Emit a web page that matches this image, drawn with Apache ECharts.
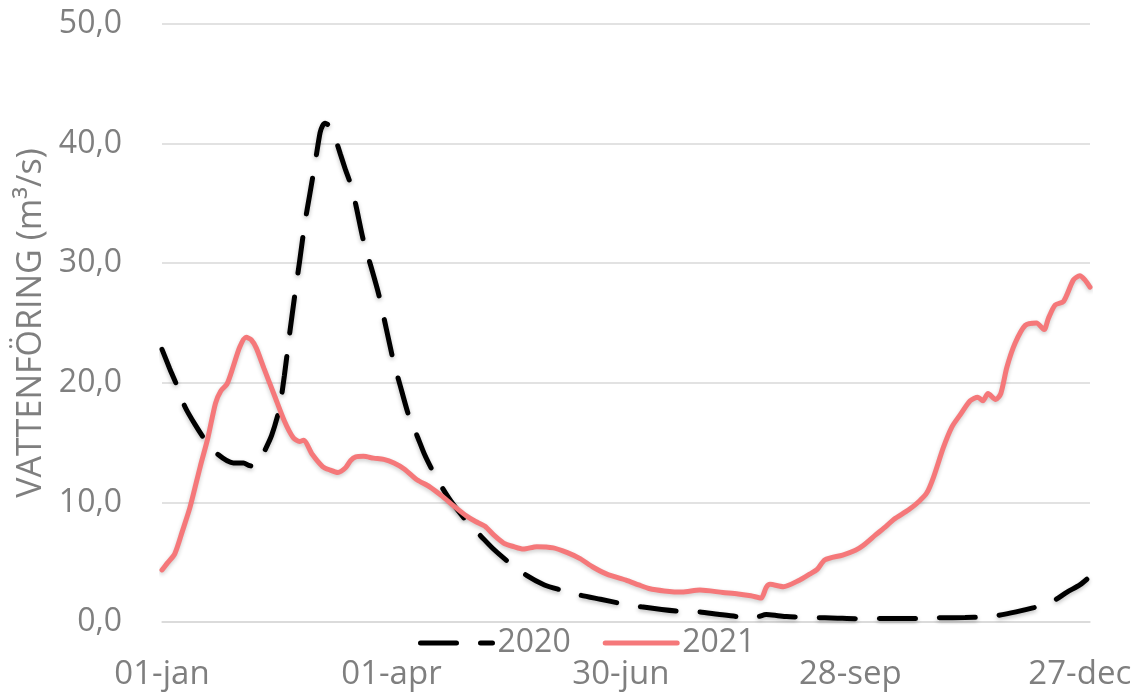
<!DOCTYPE html>
<html>
<head>
<meta charset="utf-8">
<script src="https://cdn.jsdelivr.net/npm/echarts@6/dist/echarts.min.js"></script>
<style>
html,body{margin:0;padding:0;background:#fff;}
#chart{width:1140px;height:693px;}
</style>
</head>
<body>
<div id="chart"></div>
<script>
// Tick labels (every 90 days from 01-jan)
const tickLabels = ['01-jan', '01-apr', '30-jun', '28-sep', '27-dec'];
const yAxisTitle = 'VATTENFÖRING (m³/s)';
const seriesNames = ['2020', '2021'];

// 2020 (day of year, value)
const days2020 = [0,3,6,9,13,17,22,28,32,34,36,38,40,43,46,48,50,52,54,56,58,60,62,63,64,66,68,70,72,74,76,79,82,85,88,91,93,97,100,103,106,110,114,120,125,130,136,143,150,156,164,172,180,188,196,203,211,218,226,233,237,241,245,255,265,272,285,296,305,315,322,328,335,342,346,350,355,360,364];
const values2020 = [22.8,21.2,19.7,18.0,16.5,15.2,14.0,13.3,13.3,13.1,13.0,13.4,14.2,15.6,17.8,20.6,24.0,27.2,30.2,33.3,35.8,38.3,40.9,41.5,41.7,41.4,40.4,39.1,37.8,36.6,34.9,31.9,29.7,27.4,24.5,21.6,20.1,17.1,15.6,14.0,12.7,11.2,9.9,8.3,7.2,6.1,5.0,3.9,3.1,2.7,2.25,1.9,1.55,1.27,1.05,0.9,0.84,0.65,0.45,0.42,0.62,0.55,0.45,0.38,0.32,0.28,0.3,0.3,0.35,0.37,0.42,0.56,0.85,1.2,1.45,1.8,2.5,3.1,3.8];

// 2021 (day of year, value)
const days2021 = [0,2,5,8,11,15,18,21,23,25.5,28,30.5,33,35,37,40,44,48,51.5,54,55.5,59,63,66,69,72,74,76,79,83,87,91,95,100,105,110,115,119.5,123,126.7,130,134,138,141.7,147,153.5,159,164,169,174.5,182,187,191,197,204,211,220,226,231,235,237,238.5,243.7,250,254,257,260,267,272,275,280,284,287,293,297,300,302.6,306.5,309.8,313,317,320,322,324,327,329,331.4,334.6,338.6,343,346,347.7,350.3,353.6,357.5,360,362,364];
const values2021 = [4.35,4.9,5.7,7.6,9.6,13.0,15.4,18.3,19.3,19.9,21.4,23.0,23.8,23.6,22.9,21.2,19.0,16.8,15.4,15.1,15.2,14.0,13.0,12.7,12.5,12.9,13.5,13.8,13.85,13.7,13.6,13.3,12.8,11.9,11.3,10.5,9.6,8.85,8.4,8.0,7.3,6.6,6.3,6.1,6.3,6.2,5.8,5.3,4.6,4.0,3.5,3.1,2.8,2.6,2.5,2.67,2.47,2.35,2.2,2.0,2.9,3.15,2.95,3.5,4.0,4.4,5.2,5.6,6.0,6.4,7.3,8.0,8.57,9.4,10.1,10.8,12.1,14.6,16.3,17.3,18.5,18.8,18.5,19.1,18.6,19.1,21.3,23.3,24.8,25.0,24.45,25.4,26.5,26.8,28.6,28.95,28.6,28.0];

function zip(xs, ys) { return xs.map((x, i) => [x, ys[i]]); }

const FONT = '"Open Sans", "Noto Sans", sans-serif';
const GRAY = '#7F7F7F';

const chart = echarts.init(document.getElementById('chart'), null, {renderer: 'canvas'});
chart.setOption({
  animation: false,
  backgroundColor: '#ffffff',
  grid: {left: 162, right: 50, top: 24, bottom: 71, containLabel: false},
  legend: {
    data: seriesNames,
    left: 418,
    top: 627,
    itemWidth: 72,
    itemHeight: 14,
    itemGap: 32,
    padding: 0,
    textStyle: {color: GRAY, fontSize: 32, fontFamily: FONT, padding: [0, 0, 0, 0]},
    itemStyle: {opacity: 0},
    lineStyle: {width: 5}
  },
  xAxis: {
    type: 'value',
    min: 0,
    max: 364,
    interval: 90,
    splitLine: {show: false},
    axisTick: {show: false},
    axisLine: {show: true, lineStyle: {color: '#D9D9D9', width: 1.5}},
    axisLabel: {
      color: GRAY, fontSize: 33, fontFamily: FONT, margin: 36,
      showMaxLabel: true,
      formatter: function (v) {
        if (v % 90 === 0) return tickLabels[v / 90] || '';
        return '';
      }
    }
  },
  yAxis: {
    type: 'value',
    min: 0,
    max: 50,
    interval: 10,
    name: yAxisTitle,
    nameLocation: 'middle',
    nameGap: 96,
    nameTextStyle: {color: GRAY, fontSize: 34, fontFamily: FONT},
    axisLine: {show: false},
    axisTick: {show: false},
    splitLine: {lineStyle: {color: '#D9D9D9', width: 1.5}},
    axisLabel: {
      color: GRAY, fontSize: 32, fontFamily: FONT, margin: 40,
      formatter: function (v) { return v.toFixed(1).replace('.', ','); }
    }
  },
  series: [
    {
      name: seriesNames[0],
      type: 'line',
      data: zip(days2020, values2020),
      smooth: 0.25,
      showSymbol: false,
      symbol: 'none',
      lineStyle: {
        color: '#000000', width: 5, type: [36, 24], cap: 'round',
        shadowColor: 'rgba(0,0,0,0.25)', shadowBlur: 4, shadowOffsetY: 2
      },
      itemStyle: {color: '#000000'}
    },
    {
      name: seriesNames[1],
      type: 'line',
      data: zip(days2021, values2021),
      smooth: 0.25,
      showSymbol: false,
      symbol: 'none',
      lineStyle: {
        color: '#F5787A', width: 5, cap: 'round',
        shadowColor: 'rgba(0,0,0,0.2)', shadowBlur: 4, shadowOffsetY: 2
      },
      itemStyle: {color: '#F5787A'}
    }
  ]
});
</script>
</body>
</html>
